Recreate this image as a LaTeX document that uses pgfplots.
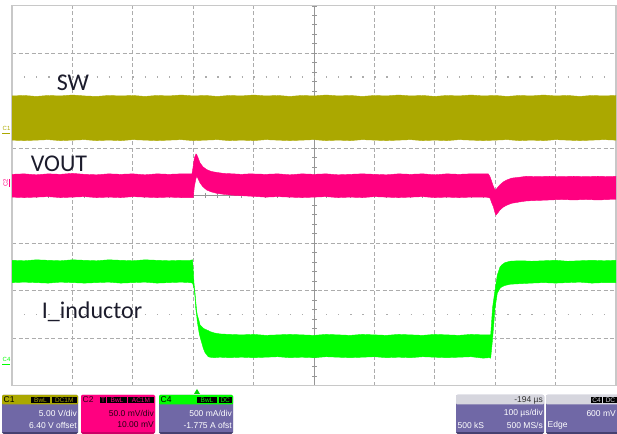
\documentclass[border=0pt]{standalone}
\usepackage{pgfplots}
\usepackage{pgfplotstable}
\pgfplotsset{compat=1.18}
\usepgfplotslibrary{fillbetween}
\usepackage{fontspec}
\newfontfamily\labelfont{Carlito}
\newfontfamily\panelfont{Liberation Sans}

\definecolor{swcol}{RGB}{171,168,0}
\definecolor{voutcol}{RGB}{255,0,128}
\definecolor{icol}{RGB}{0,255,0}
\definecolor{gridcol}{RGB}{172,172,172}
\definecolor{centercol}{RGB}{150,150,150}
\definecolor{framecol}{RGB}{200,200,200}
\definecolor{panelbody}{RGB}{112,104,166}
\definecolor{panelshade}{RGB}{70,64,112}
\definecolor{panelhead}{RGB}{214,214,222}
\definecolor{labelcol}{RGB}{28,28,44}

% envelopes of each trace, in screen divisions (x: 0..10, y: -4..4)
\pgfplotstableread{
x hi lo
0.0 2.10 1.17
0.2 2.11 1.16
0.4 2.09 1.17
0.6 2.11 1.18
0.8 2.10 1.16
1.0 2.12 1.17
1.2 2.10 1.18
1.4 2.09 1.16
1.6 2.11 1.17
1.8 2.10 1.16
2.0 2.11 1.18
2.2 2.09 1.17
2.4 2.11 1.16
2.6 2.10 1.17
2.8 2.12 1.18
3.0 2.10 1.16
3.2 2.11 1.17
3.4 2.09 1.18
3.6 2.11 1.16
3.8 2.10 1.17
4.0 2.12 1.16
4.2 2.10 1.18
4.4 2.11 1.17
4.6 2.09 1.16
4.8 2.11 1.17
5.0 2.10 1.18
5.2 2.12 1.16
5.4 2.10 1.17
5.6 2.11 1.16
5.8 2.09 1.18
6.0 2.11 1.17
6.2 2.10 1.16
6.4 2.12 1.17
6.6 2.10 1.18
6.8 2.11 1.16
7.0 2.09 1.17
7.2 2.11 1.16
7.4 2.10 1.18
7.6 2.12 1.17
7.8 2.10 1.16
8.0 2.11 1.17
8.2 2.09 1.18
8.4 2.11 1.16
8.6 2.10 1.17
8.8 2.12 1.16
9.0 2.10 1.18
9.2 2.11 1.17
9.4 2.09 1.16
9.6 2.11 1.17
9.8 2.10 1.18
10.0 2.11 1.17
}\swdata

\pgfplotstableread{
x hi lo
0.0 0.45 -0.03
0.2 0.46 -0.04
0.4 0.44 -0.03
0.6 0.46 -0.02
0.8 0.45 -0.04
1.0 0.47 -0.03
1.2 0.45 -0.02
1.4 0.44 -0.04
1.6 0.46 -0.03
1.8 0.45 -0.04
2.0 0.46 -0.02
2.2 0.44 -0.03
2.4 0.46 -0.04
2.6 0.45 -0.03
2.8 0.46 -0.04
2.98 0.46 -0.04
3.00 0.62 -0.04
3.02 0.80 0.20
3.046 0.88 0.36
3.06 0.86 0.41
3.08 0.80 0.36
3.113 0.69 0.27
3.16 0.61 0.19
3.223 0.55 0.12
3.30 0.51 0.08
3.39 0.49 0.05
3.50 0.47 0.03
3.66 0.46 0.01
3.80 0.45 0.00
3.94 0.46 -0.01
4.2 0.45 -0.03
4.4 0.46 -0.02
4.6 0.44 -0.03
4.8 0.46 -0.04
5.0 0.45 -0.03
5.2 0.46 -0.02
5.4 0.44 -0.04
5.6 0.45 -0.03
5.8 0.46 -0.04
6.0 0.45 -0.02
6.2 0.44 -0.03
6.4 0.46 -0.04
6.6 0.45 -0.03
6.8 0.46 -0.02
7.0 0.44 -0.04
7.2 0.46 -0.03
7.4 0.45 -0.04
7.6 0.46 -0.03
7.85 0.46 -0.03
7.886 0.46 -0.04
7.914 0.40 -0.05
7.942 0.30 -0.15
7.969 0.20 -0.23
7.997 0.12 -0.36
8.013 0.13 -0.41
8.051 0.19 -0.35
8.079 0.23 -0.30
8.134 0.29 -0.24
8.19 0.33 -0.20
8.273 0.37 -0.16
8.41 0.39 -0.13
8.52 0.41 -0.11
8.7 0.40 -0.10
8.9 0.41 -0.09
9.1 0.40 -0.08
9.3 0.41 -0.09
9.5 0.40 -0.08
9.7 0.41 -0.09
9.9 0.40 -0.08
10.0 0.41 -0.08
}\voutdata

\pgfplotstableread{
x hi lo
0.0 -1.36 -1.83
0.2 -1.37 -1.82
0.4 -1.35 -1.83
0.6 -1.36 -1.84
0.8 -1.37 -1.82
1.0 -1.35 -1.83
1.2 -1.36 -1.84
1.4 -1.37 -1.83
1.6 -1.35 -1.82
1.8 -1.36 -1.84
2.0 -1.37 -1.83
2.2 -1.35 -1.82
2.4 -1.36 -1.84
2.6 -1.37 -1.83
2.8 -1.36 -1.82
2.95 -1.36 -1.83
2.99 -1.35 -1.84
3.013 -1.84 -1.95
3.03 -2.05 -2.13
3.04 -2.20 -2.35
3.06 -2.45 -2.55
3.068 -2.51 -2.65
3.10 -2.65 -2.90
3.113 -2.72 -2.97
3.167 -2.79 -3.21
3.195 -2.81 -3.30
3.25 -2.84 -3.39
3.278 -2.86 -3.40
3.35 -2.89 -3.41
3.44 -2.91 -3.40
3.6 -2.92 -3.41
3.8 -2.93 -3.40
4.0 -2.92 -3.41
4.2 -2.94 -3.40
4.4 -2.93 -3.39
4.6 -2.92 -3.41
4.8 -2.93 -3.40
5.0 -2.94 -3.41
5.2 -2.92 -3.39
5.4 -2.93 -3.40
5.6 -2.94 -3.41
5.8 -2.92 -3.40
6.0 -2.93 -3.39
6.2 -2.94 -3.41
6.4 -2.92 -3.40
6.6 -2.93 -3.41
6.8 -2.94 -3.39
7.0 -2.92 -3.40
7.2 -2.93 -3.41
7.4 -2.94 -3.40
7.6 -2.92 -3.39
7.8 -2.93 -3.42
7.9 -2.93 -3.41
7.925 -2.93 -3.42
7.958 -2.34 -3.00
7.997 -1.99 -2.37
8.035 -1.67 -2.05
8.08 -1.50 -1.95
8.107 -1.46 -1.92
8.16 -1.41 -1.89
8.245 -1.38 -1.865
8.30 -1.375 -1.86
8.45 -1.37 -1.85
8.6 -1.38 -1.84
8.8 -1.37 -1.83
9.0 -1.36 -1.84
9.2 -1.38 -1.83
9.4 -1.37 -1.82
9.6 -1.36 -1.84
9.8 -1.37 -1.83
10.0 -1.36 -1.83
}\idata

\newcommand{\pfont}{\panelfont\fontsize{8.5bp}{10bp}\selectfont}
\newcommand{\tfont}{\panelfont\fontsize{6.5bp}{7bp}\selectfont}
\newcommand{\lfont}{\labelfont\fontsize{24bp}{28bp}\selectfont}

% small black tag in a channel header: x-left, x-right, text colour, text
\newcommand{\hdrtag}[4]{%
  \fill[black] (#1,396.8) rectangle (#2,403.2);
  \node[font=\tfont, text=#3, inner sep=0pt] at ({(#1+#2)/2},400) {#4};}

\begin{document}
\begin{tikzpicture}

\begin{axis}[
  set layers,
  at={(12bp,48.3bp)}, anchor=south west,
  width=604bp, height=380bp, scale only axis,
  xmin=0, xmax=10, ymin=-4, ymax=4,
  xtick={1,2,3,4,6,7,8,9}, ytick={-3,-2,-1,1,2,3},
  xticklabels={}, yticklabels={},
  tick style={draw=none},
  grid=major,
  grid style={gridcol, line width=0.9bp, dash pattern=on 4bp off 2.5bp},
  axis line style={framecol, line width=1.3bp},
]
  \begin{pgfonlayer}{axis grid}
    % centre axes, each with a minor tick every 0.2 division
    \draw[centercol, line width=1bp] (axis cs:5,-4) -- (axis cs:5,4);
    \draw[centercol, line width=1bp] (axis cs:0,0) -- (axis cs:10,0);
    \draw[centercol, line width=5bp, dash pattern=on 0.8bp off 8.7bp, dash phase=0.4bp]
      (axis cs:5,-4) -- (axis cs:5,4);
    \draw[centercol, line width=5bp, dash pattern=on 0.8bp off 11.28bp, dash phase=0.4bp]
      (axis cs:0,0) -- (axis cs:10,0);
    % dotted guide lines
    \draw[gridcol, line width=1.3bp, dash pattern=on 1.3bp off 10.78bp]
      (axis cs:0,2.5) -- (axis cs:10,2.5);
    \draw[gridcol, line width=1.3bp, dash pattern=on 1.3bp off 10.78bp]
      (axis cs:0,-2.5) -- (axis cs:10,-2.5);
  \end{pgfonlayer}

  % SW
  \addplot[swcol, line width=0.4bp, name path=swhi] table[x=x,y=hi] {\swdata};
  \addplot[swcol, line width=0.4bp, name path=swlo] table[x=x,y=lo] {\swdata};
  \addplot[fill=swcol, draw=none] fill between[of=swhi and swlo];
  % VOUT
  \addplot[voutcol, line width=0.4bp, name path=vhi] table[x=x,y=hi] {\voutdata};
  \addplot[voutcol, line width=0.4bp, name path=vlo] table[x=x,y=lo] {\voutdata};
  \addplot[fill=voutcol, draw=none] fill between[of=vhi and vlo];
  % inductor current
  \addplot[icol, line width=0.4bp, name path=ihi] table[x=x,y=hi] {\idata};
  \addplot[icol, line width=0.4bp, name path=ilo] table[x=x,y=lo] {\idata};
  \addplot[fill=icol, draw=none] fill between[of=ihi and ilo];
\end{axis}

% screen coordinates: 1 unit = 1bp, origin at top-left, y pointing down
\begin{scope}[x=1bp,y=-1bp,shift={(0,434bp)}]
  % trace names
  \node[font=\lfont, text=labelcol] at (73,83) {SW};
  \node[font=\lfont, text=labelcol] at (59,164) {VOUT};
  \node[font=\lfont, text=labelcol] at (92,312) {I\_inductor};

  % ground markers
  \node[font=\panelfont\fontsize{6bp}{6bp}\selectfont, text=swcol, inner sep=0pt, anchor=west] at (2.5,128) {C1};
  \draw[swcol, line width=1.2bp] (2.5,133.5) -- (10,133.5);
  \node[font=\panelfont\fontsize{6bp}{6bp}\selectfont, text=voutcol, inner sep=0pt, rotate=90] at (5.5,183) {C2};
  \draw[voutcol, line width=1.2bp] (9.5,179) -- (9.5,187);
  \node[font=\panelfont\fontsize{6bp}{6bp}\selectfont, text=icol, inner sep=0pt, anchor=west] at (2.5,359) {C4};
  \draw[icol, line width=1.2bp] (2.5,364.5) -- (10,364.5);

  % trigger position
  \fill[icol!85!black] (194,394) -- (200,394) -- (197,389) -- cycle;

  % channel 1 box
  \fill[panelshade, rounded corners=1.5bp] (2,395) rectangle (78,434);
  \fill[panelbody] (2,404) rectangle (78,432);
  \fill[swcol, rounded corners=1.2bp] (2,395) rectangle (78,404.5);
  \node[font=\pfont, text=black, inner sep=0pt, anchor=west] at (3.5,400) {C1};
  \hdrtag{31}{50}{swcol}{BwL}
  \hdrtag{51.5}{77}{swcol}{DC1M}
  \node[font=\pfont, text=white, inner sep=0pt, anchor=east] at (77,413.5) {5.00 V/div};
  \node[font=\pfont, text=white, inner sep=0pt, anchor=east] at (77,425) {6.40 V offset};

  % channel 2 box
  \fill[voutcol!80!black, rounded corners=1.5bp] (81,395) rectangle (155,434);
  \fill[voutcol, rounded corners=1.2bp] (81,395) rectangle (155,432);
  \node[font=\pfont, text=black!80!voutcol, inner sep=0pt, anchor=west] at (82.5,400) {C2};
  \hdrtag{100}{106}{voutcol}{T}
  \hdrtag{107}{127}{voutcol}{BwL}
  \hdrtag{128}{154}{voutcol}{AC1M}
  \node[font=\pfont, text=black!85!voutcol, inner sep=0pt, anchor=east] at (154,413.5) {50.0 mV/div};
  \node[font=\pfont, text=black!85!voutcol, inner sep=0pt, anchor=east] at (154,425) {10.00 mV};

  % channel 4 box
  \fill[panelshade, rounded corners=1.5bp] (159,395) rectangle (233,434);
  \fill[panelbody] (159,404) rectangle (233,432);
  \fill[icol, rounded corners=1.2bp] (159,395) rectangle (233,404.5);
  \node[font=\pfont, text=black, inner sep=0pt, anchor=west] at (160.5,400) {C4};
  \hdrtag{197}{217}{icol}{BwL}
  \hdrtag{218.5}{232}{icol}{DC}
  \node[font=\pfont, text=white, inner sep=0pt, anchor=east] at (232,413.5) {500 mA/div};
  \node[font=\pfont, text=white, inner sep=0pt, anchor=east] at (232,425) {-1.775 A ofst};

  % timebase box
  \fill[panelshade, rounded corners=1.5bp] (456,395) rectangle (544,434);
  \fill[panelbody] (456,404) rectangle (544,432);
  \fill[panelhead, rounded corners=1.2bp] (456,395) rectangle (544,404.5);
  \node[font=\pfont, text=black!80, inner sep=0pt, anchor=east] at (543,400) {-194 µs};
  \node[font=\pfont, text=white, inner sep=0pt, anchor=east] at (543,413.5) {100 µs/div};
  \node[font=\pfont, text=white, inner sep=0pt, anchor=west] at (457.5,425) {500 kS};
  \node[font=\pfont, text=white, inner sep=0pt, anchor=east] at (543,425) {500 MS/s};

  % trigger box
  \fill[panelshade, rounded corners=1.5bp] (546,395) rectangle (622,434);
  \fill[panelbody] (546,404) rectangle (622,432);
  \fill[panelhead, rounded corners=1.2bp] (546,395) rectangle (622,404.5);
  \hdrtag{591}{602}{panelhead}{C4}
  \hdrtag{603}{618}{panelhead}{DC}
  \node[font=\pfont, text=white, inner sep=0pt, anchor=east] at (616,413.5) {600 mV};
  \node[font=\pfont, text=white, inner sep=0pt, anchor=west] at (547.5,425) {Edge};
\end{scope}

% the page is exactly the screen
\pgfresetboundingbox
\useasboundingbox (0,0) rectangle (617bp,434bp);
\end{tikzpicture}
\end{document}
